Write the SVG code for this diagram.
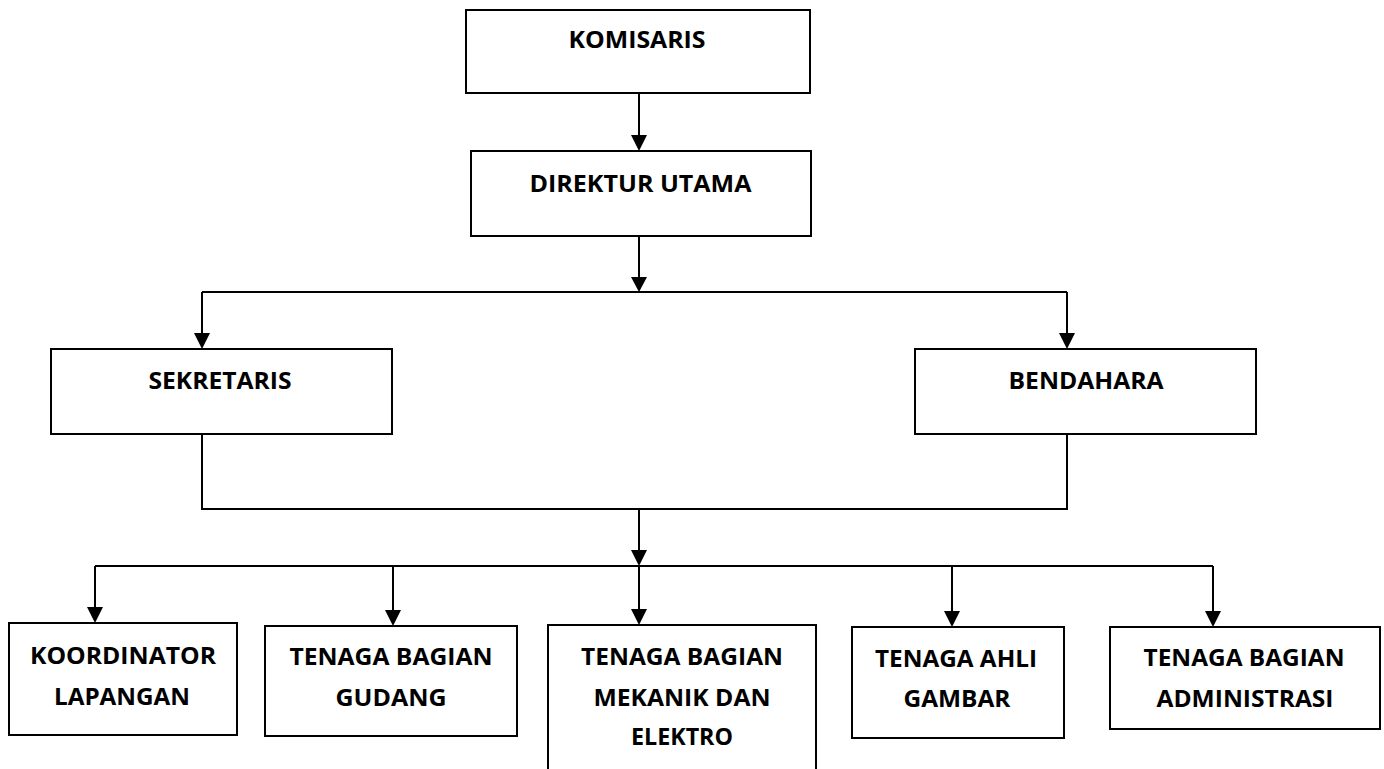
<svg xmlns="http://www.w3.org/2000/svg" width="1384" height="769" viewBox="0 0 1384 769">
<style>
.box{fill:#fff;stroke:#000;stroke-width:2}
.lbl{font-family:"Open Sans","Noto Sans","Liberation Sans",sans-serif;font-weight:700;font-size:24px;fill:#000;text-anchor:middle}
.ln{fill:none;stroke:#000;stroke-width:2}
.ah{fill:#000}
</style>
<rect width="1384" height="769" fill="#fff"/>
<g id="connectors">
<path class="ln" d="M639,93 V136"/>
<polygon class="ah" points="631,135 647,135 639,151"/>
<path class="ln" d="M639,236 V278"/>
<polygon class="ah" points="631,277 647,277 639,292"/>
<path class="ln" d="M202,292 H1067 M202,292 V334 M1067,292 V334"/>
<polygon class="ah" points="194,333 210,333 202,349"/>
<polygon class="ah" points="1059,333 1075,333 1067,349"/>
<path class="ln" d="M202,434 V509 H1067 V434"/>
<path class="ln" d="M639,509 V551"/>
<polygon class="ah" points="631,550 647,550 639,566"/>
<path class="ln" d="M95,566 H1213 M95,566 V608 M393,566 V611 M639,566 V610 M952,566 V612 M1213,566 V612"/>
<polygon class="ah" points="87,607 103,607 95,623"/>
<polygon class="ah" points="385,610 401,610 393,626"/>
<polygon class="ah" points="631,609 647,609 639,625"/>
<polygon class="ah" points="944,611 960,611 952,627"/>
<polygon class="ah" points="1205,611 1221,611 1213,627"/>
</g>
<g id="komisaris">
<rect class="box" x="466" y="10" width="344" height="83"/>
<text class="lbl" x="637" y="48" textLength="137" lengthAdjust="spacingAndGlyphs">KOMISARIS</text>
</g>
<g id="direktur">
<rect class="box" x="471" y="151" width="340" height="85"/>
<text class="lbl" x="640.5" y="192" textLength="222" lengthAdjust="spacingAndGlyphs">DIREKTUR UTAMA</text>
</g>
<g id="sekretaris">
<rect class="box" x="51" y="349" width="341" height="85"/>
<text class="lbl" x="220" y="389" textLength="143" lengthAdjust="spacingAndGlyphs">SEKRETARIS</text>
</g>
<g id="bendahara">
<rect class="box" x="915" y="349" width="341" height="85"/>
<text class="lbl" x="1086" y="389" textLength="155" lengthAdjust="spacingAndGlyphs">BENDAHARA</text>
</g>
<g id="koordinator">
<rect class="box" x="9" y="623" width="228" height="112"/>
<text class="lbl" x="123" y="664" textLength="186" lengthAdjust="spacingAndGlyphs">KOORDINATOR</text>
<text class="lbl" x="122" y="705" textLength="136" lengthAdjust="spacingAndGlyphs">LAPANGAN</text>
</g>
<g id="gudang">
<rect class="box" x="265" y="626" width="252" height="110"/>
<text class="lbl" x="391" y="665" textLength="203" lengthAdjust="spacingAndGlyphs">TENAGA BAGIAN</text>
<text class="lbl" x="391" y="706" textLength="111" lengthAdjust="spacingAndGlyphs">GUDANG</text>
</g>
<g id="mekanik">
<rect class="box" x="548" y="625" width="268" height="160"/>
<text class="lbl" x="682" y="665" textLength="202" lengthAdjust="spacingAndGlyphs">TENAGA BAGIAN</text>
<text class="lbl" x="682" y="706" textLength="177" lengthAdjust="spacingAndGlyphs">MEKANIK DAN</text>
<text class="lbl" x="682" y="745" textLength="102" lengthAdjust="spacingAndGlyphs">ELEKTRO</text>
</g>
<g id="ahli">
<rect class="box" x="852" y="627" width="212" height="111"/>
<text class="lbl" x="956" y="667" textLength="162" lengthAdjust="spacingAndGlyphs">TENAGA AHLI</text>
<text class="lbl" x="957" y="707" textLength="107" lengthAdjust="spacingAndGlyphs">GAMBAR</text>
</g>
<g id="administrasi">
<rect class="box" x="1110" y="627" width="270" height="102"/>
<text class="lbl" x="1244" y="666" textLength="201" lengthAdjust="spacingAndGlyphs">TENAGA BAGIAN</text>
<text class="lbl" x="1245" y="707" textLength="177" lengthAdjust="spacingAndGlyphs">ADMINISTRASI</text>
</g>
</svg>
